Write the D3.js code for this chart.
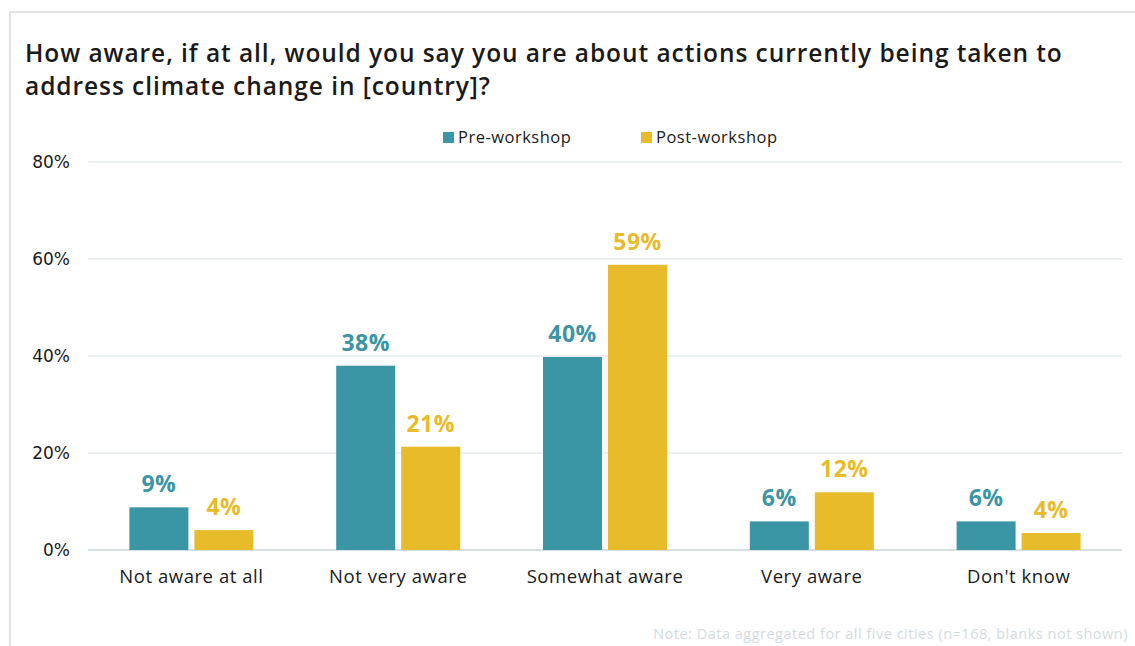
<!DOCTYPE html>
<html>
<head>
<meta charset="utf-8">
<script src="https://cdn.jsdelivr.net/npm/d3@7"></script>
<style>
  body { margin: 0; background: #fff; }
  svg { display: block; }
</style>
</head>
<body>
<div id="chart"></div>
<script>
var svgWidth = 1135;
var svgHeight = 646;

// chart data
var categories = ["Not aware at all", "Not very aware", "Somewhat aware", "Very aware", "Don't know"];
var seriesNames = ["Pre-workshop", "Post-workshop"];
var preWorkshop = [8.8, 38.0, 39.8, 5.9, 5.9];
var postWorkshop = [4.1, 21.3, 58.8, 11.9, 3.5];
var yTicks = [0, 20, 40, 60, 80];

var colors = ["#3A95A5", "#E8BB2A"];
var mainFont = "'Open Sans', sans-serif";

var margin = { top: 162, right: 13, bottom: 96, left: 88 };
var width = svgWidth - margin.left - margin.right;
var height = svgHeight - margin.top - margin.bottom;

var svg = d3.select("#chart")
  .append("svg")
  .attr("width", svgWidth)
  .attr("height", svgHeight);

// card border (left + top)
svg.append("path")
  .attr("d", `M10,${svgHeight} V12 H${svgWidth}`)
  .attr("fill", "none")
  .attr("stroke", "#e2e2e2")
  .attr("stroke-width", 2);

// title
var title = svg.append("text")
  .attr("font-family", mainFont)
  .attr("font-weight", 600)
  .attr("font-size", 24.5)
  .attr("letter-spacing", 0.93)
  .attr("fill", "#1a1a1a");
title.append("tspan").attr("x", 25).attr("y", 62)
  .text("How aware, if at all, would you say you are about actions currently being taken to");
title.append("tspan").attr("x", 25).attr("y", 95)
  .text("address climate change in [country]?");

var chartGroup = svg.append("g")
  .attr("transform", `translate(${margin.left}, ${margin.top})`);

var xScale = d3.scaleBand()
  .domain(categories)
  .range([0, width]);

var yScale = d3.scaleLinear()
  .domain([0, 80])
  .range([height, 0]);

// gridlines
chartGroup.selectAll(".grid")
  .data(yTicks)
  .enter()
  .append("line")
  .attr("x1", 0)
  .attr("x2", width)
  .attr("y1", d => yScale(d))
  .attr("y2", d => yScale(d))
  .attr("stroke", "#d6dfe4")
  .attr("stroke-width", d => d === 0 ? 2 : 1);

// y axis labels
var leftAxis = d3.axisLeft(yScale)
  .tickValues(yTicks)
  .tickFormat(d => d + "%")
  .tickSize(0)
  .tickPadding(18);

var yAxis = chartGroup.append("g").call(leftAxis);
yAxis.select(".domain").remove();
yAxis.selectAll("text")
  .attr("font-family", "'DejaVu Sans', sans-serif")
  .attr("font-size", 17)
  .attr("fill", "#1a1a1a");

// x axis labels
var bottomAxis = d3.axisBottom(xScale).tickSize(0).tickPadding(20);
var xAxis = chartGroup.append("g")
  .attr("transform", `translate(0, ${height})`)
  .call(bottomAxis);
xAxis.select(".domain").remove();
xAxis.selectAll("text")
  .attr("font-family", mainFont)
  .attr("font-size", 18.5)
  .attr("letter-spacing", 0.55)
  .attr("fill", "#1a1a1a");

// bars
var barWidth = 59;
var barGap = 6;
var series = [preWorkshop, postWorkshop];

series.forEach(function(values, i) {
  var offset = i === 0 ? -barGap / 2 - barWidth : barGap / 2;
  var g = chartGroup.append("g");

  g.selectAll("rect")
    .data(values)
    .enter()
    .append("rect")
    .attr("x", (d, j) => xScale(categories[j]) + xScale.bandwidth() / 2 + offset)
    .attr("y", d => yScale(d))
    .attr("width", barWidth)
    .attr("height", d => height - yScale(d))
    .attr("fill", colors[i]);

  g.selectAll("text")
    .data(values)
    .enter()
    .append("text")
    .attr("x", (d, j) => xScale(categories[j]) + xScale.bandwidth() / 2 + offset + barWidth / 2)
    .attr("y", d => yScale(d) - 15)
    .attr("text-anchor", "middle")
    .attr("font-family", mainFont)
    .attr("font-weight", 700)
    .attr("font-size", 23)
    .attr("letter-spacing", 0.5)
    .attr("fill", colors[i])
    .text(d => Math.round(d) + "%");
});

// legend
var legendX = [443, 641];
var legend = svg.selectAll(".legend")
  .data(seriesNames)
  .enter()
  .append("g")
  .attr("transform", (d, i) => `translate(${legendX[i]}, 132)`);

legend.append("rect")
  .attr("width", 11)
  .attr("height", 11)
  .attr("fill", (d, i) => colors[i]);

legend.append("text")
  .attr("x", 15)
  .attr("y", 10.5)
  .attr("font-family", mainFont)
  .attr("font-size", 16.5)
  .attr("letter-spacing", 0.5)
  .attr("fill", "#1a1a1a")
  .text(d => d);

// note
svg.append("text")
  .attr("x", 1128)
  .attr("y", 639)
  .attr("text-anchor", "end")
  .attr("font-family", mainFont)
  .attr("font-size", 14.5)
  .attr("letter-spacing", 0.5)
  .attr("fill", "#d3dbe0")
  .text("Note: Data aggregated for all five cities (n=168, blanks not shown)");
</script>
</body>
</html>
